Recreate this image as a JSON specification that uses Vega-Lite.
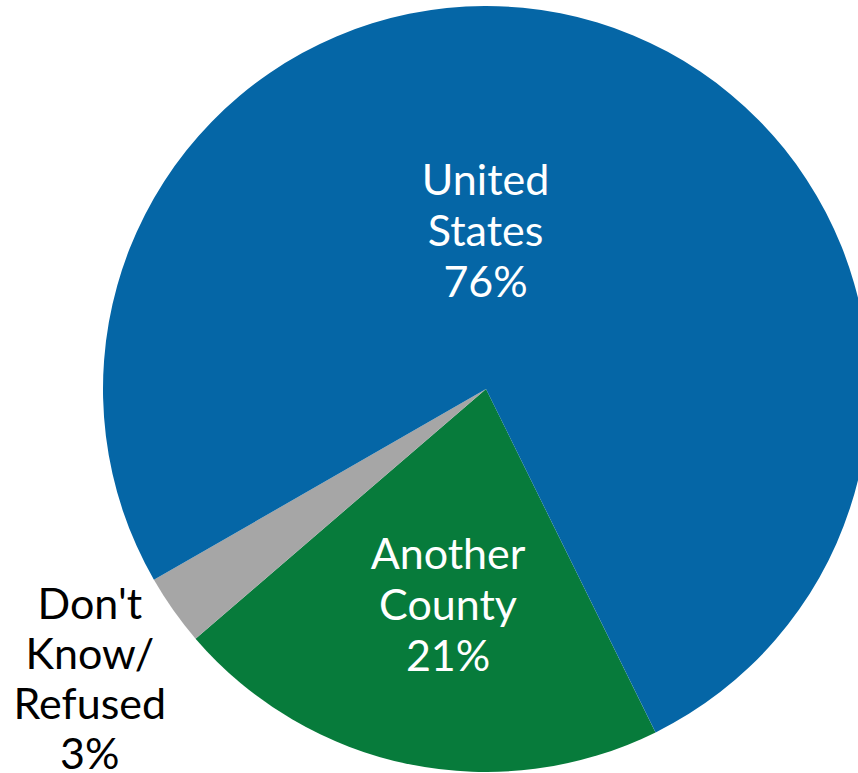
{
  "$schema": "https://vega.github.io/schema/vega-lite/v6.json",
  "autosize": "none",
  "width": 766,
  "height": 766,
  "padding": {"left": 103, "top": 6, "right": 0, "bottom": 0},
  "background": "white",
  "config": {"view": {"stroke": null}},
  "data": {
    "values": [
      {"category": "Another County", "value": 21, "order": 1, "label": "Another\nCounty\n21%"},
      {"category": "Don't Know/ Refused", "value": 3, "order": 2, "label": "Don't\nKnow/\nRefused\n3%"},
      {"category": "United States", "value": 76, "order": 3, "label": "United\nStates\n76%"}
    ]
  },
  "encoding": {
    "theta": {"field": "value", "type": "quantitative", "stack": true, "scale": {"range": [2.683, 8.966]}},
    "order": {"field": "order", "type": "quantitative"}
  },
  "layer": [
    {
      "mark": {"type": "arc", "outerRadius": 383},
      "encoding": {
        "color": {
          "field": "category", "type": "nominal", "legend": null,
          "scale": {"domain": ["Another County", "Don't Know/ Refused", "United States"], "range": ["#077B3B", "#A6A6A6", "#0566A6"]}
        }
      }
    },
    {
      "mark": {"type": "text", "radius": 160, "dx": -47, "dy": -54, "font": "Lato", "fontSize": 43, "lineHeight": 51, "color": "white", "align": "center", "baseline": "middle", "lineBreak": "\n"},
      "encoding": {
        "text": {"condition": {"test": "datum.category == 'United States'", "field": "label"}, "value": ""}
      }
    },
    {
      "mark": {"type": "text", "radius": 220, "dx": 6, "dy": -49, "font": "Lato", "fontSize": 43, "lineHeight": 51, "color": "white", "align": "center", "baseline": "middle", "lineBreak": "\n"},
      "encoding": {
        "text": {"condition": {"test": "datum.category == 'Another County'", "field": "label"}, "value": ""}
      }
    },
    {
      "mark": {"type": "text", "radius": 440, "dx": -37, "dy": -37, "font": "Lato", "fontSize": 43, "lineHeight": 50, "color": "black", "align": "center", "baseline": "middle", "lineBreak": "\n"},
      "encoding": {
        "text": {"condition": {"test": "datum.category == \"Don't Know/ Refused\"", "field": "label"}, "value": ""}
      }
    }
  ]
}
